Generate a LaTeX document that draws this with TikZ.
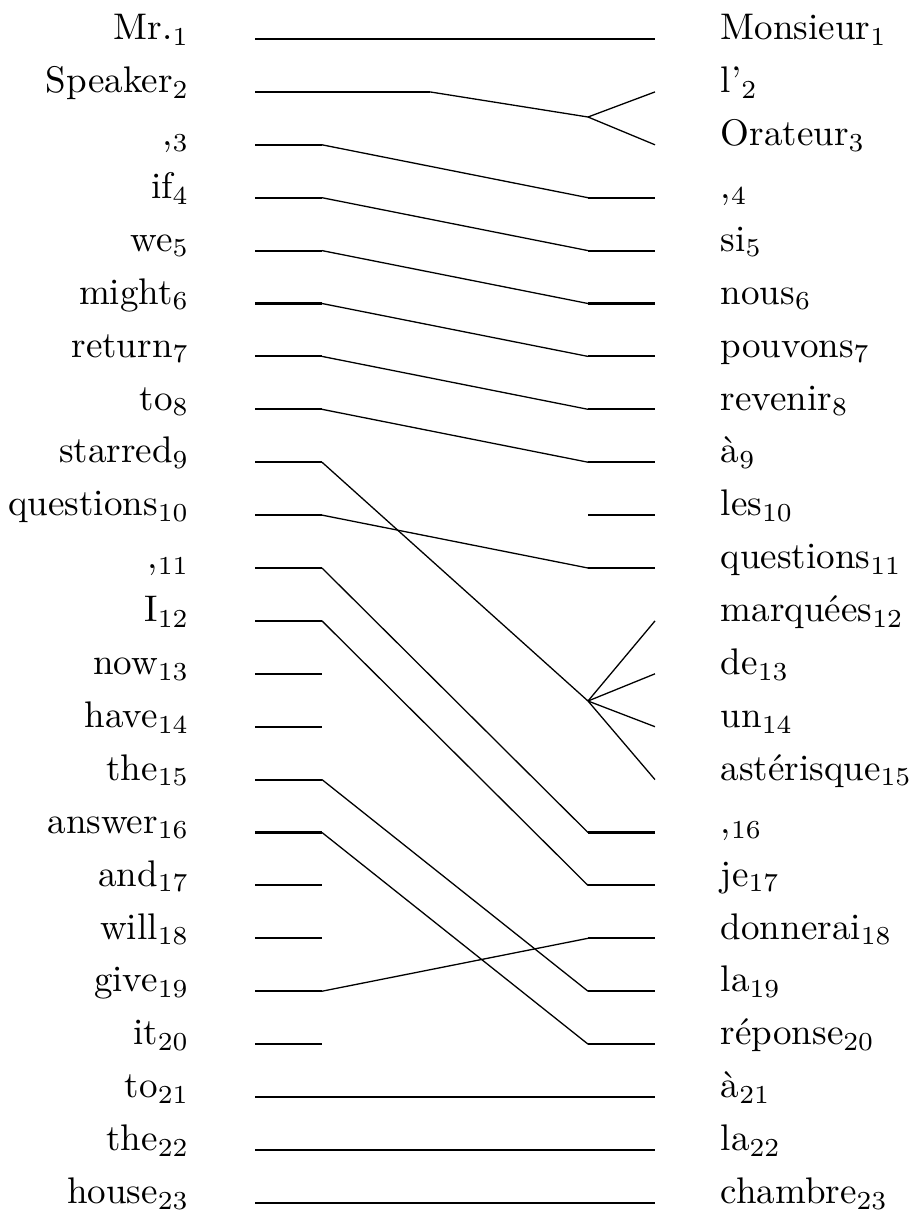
\documentclass[tikz,border=0pt]{standalone}
\usetikzlibrary{positioning}

\begin{document}
\begin{tikzpicture}[
  x=0.27pt, y=-0.27pt,
  eword/.style={anchor=base east, inner sep=0pt, font=\fontsize{10}{12}\selectfont},
  fword/.style={anchor=base west, inner sep=0pt, font=\fontsize{10}{12}\selectfont},
  stub/.style={line width=0.55pt},
  link/.style={line width=0.35pt},
]
\useasboundingbox (0,0) rectangle (911,1217);

%% Stub ends, one row per word position
\foreach \i in {1,...,23}{
  \pgfmathsetmacro{\y}{39+(\i-1)*52.9}
  \coordinate (eL\i) at (255,\y);
  \coordinate (eR\i) at (322,\y);
  \coordinate (fL\i) at (588,\y);
  \coordinate (fR\i) at (655,\y);
}
\coordinate (eM2) at (430,91.9);
\coordinate (sp)  at (588,117);
\coordinate (st)  at (588,701);

%% English words
\foreach \i/\w in {1/Mr.,2/Speaker,3/{,},4/if,5/we,6/might,7/return,8/to,
                   9/starred,10/questions,11/{,},12/I,13/now,14/have,15/the,
                   16/answer,17/and,18/will,19/give,20/it,21/to,22/the,23/house}{
  \node[eword] (e\i) at ([yshift=-0.2pt]190,0 |- eL\i) {\w$_{\i}$};
}

%% French words
\foreach \i/\w in {1/Monsieur,2/l',3/Orateur,4/{,},5/si,6/nous,7/pouvons,8/revenir,
                   9/à,10/les,11/questions,12/marquées,13/de,14/un,15/astérisque,
                   16/{,},17/je,18/donnerai,19/la,20/réponse,21/à,22/la,23/chambre}{
  \node[fword] (f\i) at ([yshift=-0.2pt]720,0 |- fL\i) {\w$_{\i}$};
}

%% Stubs
\foreach \i in {3,...,20}
  \draw[stub] (eL\i) -- (eR\i);
\foreach \i in {4,...,11,16,17,18,19,20}
  \draw[stub] (fL\i) -- (fR\i);
\foreach \i in {1,21,22,23}
  \draw[stub] (eL\i) -- (fR\i);
\draw[stub] (eL2) -- (eM2);

%% Alignment links
\draw[link] (eM2) -- (sp);
\draw[link] (sp) -- (fR2);
\draw[link] (sp) -- (fR3);
\foreach \a/\b in {3/4,4/5,5/6,6/7,7/8,8/9,10/11,11/16,12/17,15/19,16/20,19/18}
  \draw[link] (eR\a) -- (fL\b);
\draw[link] (eR9) -- (st);
\foreach \b in {12,13,14,15}
  \draw[link] (st) -- (fR\b);

\end{tikzpicture}
\end{document}
